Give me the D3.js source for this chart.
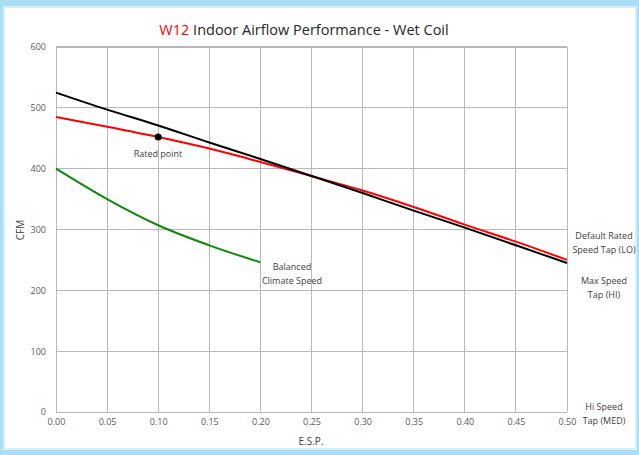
<!DOCTYPE html>
<html><head><meta charset="utf-8">
<script src="https://cdn.jsdelivr.net/npm/d3@7"></script>
<style>
html,body{margin:0;padding:0;background:#fff;}
svg{display:block;}
</style></head><body>
<svg id="c" width="639" height="455"></svg>
<script>
const espTicks = [0,0.05,0.1,0.15,0.2,0.25,0.3,0.35,0.4,0.45,0.5];
const cfmTicks = [0,100,200,300,400,500,600];
const blackX = [0,0.05,0.1,0.15,0.2,0.25,0.3,0.35,0.4,0.45,0.5];
const blackY = [525,497,471,443,416,388,360,331,303,274,245];
const redX = [0,0.05,0.1,0.15,0.2,0.25,0.3,0.35,0.4,0.45,0.5];
const redY = [485,469,452,433,411,388,364,337,308,280,250];
const greenX = [0,0.05,0.1,0.15,0.2];
const greenY = [400,350,307,274,246];
const ratedPoint = [0.1,452];

const svg = d3.select("#c");
const W=639,H=455;
svg.append("rect").attr("x",0).attr("y",0).attr("width",W).attr("height",H).attr("fill","#a9def5");
svg.append("rect").attr("x",4).attr("y",7).attr("width",632).attr("height",442).attr("fill","#fff")
  .attr("stroke","#d6f0fb").attr("stroke-width",2);

const x = d3.scaleLinear().domain([0,0.5]).range([56,567]);
const y = d3.scaleLinear().domain([0,600]).range([412,47]);
const font = "'Open Sans','Noto Sans',sans-serif";

// grid
const g = svg.append("g");
g.selectAll(".vx").data(espTicks).join("line")
  .attr("x1",d=>x(d)).attr("x2",d=>x(d)).attr("y1",y(0)).attr("y2",y(600))
  .attr("stroke","#b8b8b8").attr("stroke-width",1).attr("shape-rendering","crispEdges");
g.selectAll(".hy").data(cfmTicks).join("line")
  .attr("x1",x(0)).attr("x2",x(0.5)).attr("y1",d=>y(d)).attr("y2",d=>y(d))
  .attr("stroke","#b8b8b8").attr("stroke-width",d=>d===600?1.5:1).attr("shape-rendering","crispEdges");

// axes labels
const xAxis = d3.axisBottom(x).tickValues(espTicks).tickFormat(d3.format(".2f")).tickSize(0).tickPadding(7);
const xa = svg.append("g").attr("transform",`translate(0,${y(0)})`).call(xAxis);
xa.select(".domain").remove();
xa.selectAll("text").attr("fill","#595959").attr("font-size",9).attr("font-family",font);
const yAxis = d3.axisLeft(y).tickValues(cfmTicks).tickSize(0).tickPadding(10);
const ya = svg.append("g").attr("transform",`translate(${x(0)},0)`).call(yAxis);
ya.select(".domain").remove();
ya.selectAll("text").attr("fill","#595959").attr("font-size",9).attr("font-family",font);

svg.append("text").attr("x",311).attr("y",445).attr("text-anchor","middle").attr("font-size",10)
  .attr("font-family",font).attr("fill","#404040").text("E.S.P.");
svg.append("text").attr("transform","translate(24,230) rotate(-90)").attr("text-anchor","middle").attr("font-size",10)
  .attr("font-family",font).attr("fill","#404040").text("CFM");

// title
const t = svg.append("text").attr("x",304).attr("y",35).attr("text-anchor","middle").attr("font-size",14.5)
  .attr("font-family",font).attr("fill","#262626");
t.append("tspan").attr("fill","#ff0000").text("W12");
t.append("tspan").text(" Indoor Airflow Performance - Wet Coil");

// lines
const line = d3.line().x(d=>x(d[0])).y(d=>y(d[1])).curve(d3.curveMonotoneX);
svg.append("path").datum(greenX.map((v,i)=>[v,greenY[i]])).attr("d",line)
  .attr("fill","none").attr("stroke","#0a8a0a").attr("stroke-width",2);
svg.append("path").datum(redX.map((v,i)=>[v,redY[i]])).attr("d",line)
  .attr("fill","none").attr("stroke","#ff0000").attr("stroke-width",2);
svg.append("path").datum(blackX.map((v,i)=>[v,blackY[i]])).attr("d",line)
  .attr("fill","none").attr("stroke","#000").attr("stroke-width",2);

svg.append("circle").attr("cx",x(ratedPoint[0])).attr("cy",y(ratedPoint[1])).attr("r",3.5).attr("fill","#000");

// annotations
const ann = (lines, cx, cy) => {
  const tt = svg.append("text").attr("text-anchor","middle").attr("font-size",9).attr("font-family",font).attr("fill","#404040");
  lines.forEach((l,i)=>tt.append("tspan").attr("x",cx).attr("y",cy+i*13.5).text(l));
};
ann(["Rated point"],158,157);
ann(["Balanced","Climate Speed"],292,270);
ann(["Default Rated","Speed Tap (LO)"],604,239);
ann(["Max Speed","Tap (HI)"],604,284);
ann(["Hi Speed","Tap (MED)"],604,410);
</script>
</body></html>
